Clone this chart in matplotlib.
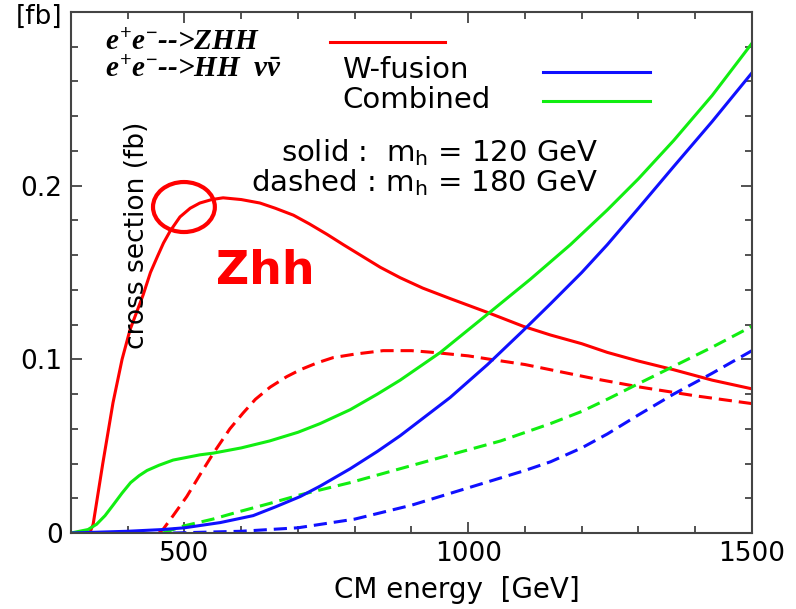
import matplotlib
matplotlib.use('Agg')
import matplotlib.pyplot as plt
from matplotlib.patches import Ellipse
from matplotlib.ticker import MultipleLocator

# values (x: CM energy in GeV, y: cross section in fb)
zhh_120_e = [333, 339, 356, 374, 390, 404, 427, 440, 452, 463, 475, 492, 510, 527, 548,
             568, 600, 633, 660, 692, 720, 751, 780, 810, 845, 880, 920, 968, 1034, 1097,
             1145, 1200, 1245, 1300, 1362, 1430, 1500]
zhh_120_v = [0.0, 0.005, 0.040, 0.075, 0.100, 0.117, 0.137, 0.150, 0.159, 0.167, 0.174,
             0.182, 0.187, 0.190, 0.192, 0.193, 0.192, 0.190, 0.187, 0.183, 0.178, 0.172,
             0.166, 0.160, 0.153, 0.147, 0.141, 0.135, 0.127, 0.119, 0.114, 0.109, 0.104,
             0.099, 0.094, 0.088, 0.083]

zhh_180_e = [455, 462, 480, 504, 530, 551, 580, 603, 625, 651, 680, 704, 734, 762, 800,
             850, 900, 938, 1000, 1039, 1100, 1145, 1220, 1303, 1400, 1500]
zhh_180_v = [0.0, 0.002, 0.010, 0.021, 0.035, 0.046, 0.060, 0.069, 0.077, 0.084, 0.090,
             0.094, 0.098, 0.101, 0.103, 0.105, 0.105, 0.104, 0.102, 0.100, 0.097, 0.094,
             0.089, 0.084, 0.079, 0.0745]

comb_120_e = [300, 330, 345, 360, 374, 390, 405, 420, 434, 455, 480, 527, 551, 600, 650,
              700, 739, 792, 840, 880, 951, 1034, 1109, 1180, 1245, 1300, 1362, 1430, 1500]
comb_120_v = [0.0, 0.002, 0.005, 0.010, 0.016, 0.023, 0.029, 0.033, 0.036, 0.039, 0.042,
              0.045, 0.046, 0.049, 0.053, 0.058, 0.063, 0.071, 0.080, 0.088, 0.104, 0.126,
              0.146, 0.166, 0.186, 0.204, 0.226, 0.252, 0.282]

wfus_120_e = [300, 400, 462, 500, 563, 621, 660, 704, 739, 792, 840, 880, 920, 968, 1034,
              1095, 1145, 1200, 1245, 1300, 1362, 1430, 1500]
wfus_120_v = [0.0, 0.001, 0.002, 0.003, 0.006, 0.010, 0.015, 0.021, 0.027, 0.037, 0.047,
              0.056, 0.066, 0.078, 0.097, 0.116, 0.132, 0.150, 0.166, 0.187, 0.211, 0.237,
              0.265]

comb_180_e = [462, 498, 550, 593, 650, 704, 792, 880, 968, 1057, 1145, 1200, 1245, 1300,
              1362, 1430, 1500]
comb_180_v = [0.0, 0.004, 0.008, 0.012, 0.017, 0.022, 0.029, 0.037, 0.045, 0.053, 0.063,
              0.070, 0.077, 0.086, 0.096, 0.107, 0.119]

wfus_180_e = [480, 600, 700, 800, 900, 1000, 1100, 1145, 1200, 1245, 1300, 1362, 1430, 1500]
wfus_180_v = [0.0, 0.001, 0.003, 0.008, 0.016, 0.026, 0.036, 0.041, 0.049, 0.057, 0.068,
              0.080, 0.092, 0.105]

RED = '#ff0000'
BLUE = '#1010ff'
GREEN = '#11ee11'

plt.rcParams['font.family'] = ['DejaVu Sans']
plt.rcParams['mathtext.fontset'] = 'custom'
plt.rcParams['mathtext.it'] = 'Liberation Serif:italic:bold'
plt.rcParams['mathtext.rm'] = 'Liberation Serif:bold'
plt.rcParams['mathtext.bf'] = 'Liberation Serif:bold'
plt.rcParams['lines.scale_dashes'] = False

fig = plt.figure(figsize=(7.96, 6.09), dpi=100)
ax = fig.add_axes([0.0892, 0.1248, 0.8555, 0.8555])

lw = 2.2
dash = (9.5, 5)
ax.plot(zhh_120_e, zhh_120_v, color=RED, lw=lw)
ax.plot(zhh_180_e, zhh_180_v, color=RED, lw=lw, dashes=dash)
ax.plot(comb_120_e, comb_120_v, color=GREEN, lw=lw)
ax.plot(comb_180_e, comb_180_v, color=GREEN, lw=lw, dashes=dash)
ax.plot(wfus_120_e, wfus_120_v, color=BLUE, lw=lw)
ax.plot(wfus_180_e, wfus_180_v, color=BLUE, lw=lw, dashes=dash)

ax.set_xlim(300, 1500)
ax.set_ylim(0, 0.3)
ax.set_xticks([500, 1000, 1500])
ax.set_xticklabels(['500', '1000', '1500'])
ax.xaxis.set_minor_locator(MultipleLocator(100))
ax.set_yticks([0, 0.1, 0.2])
ax.set_yticklabels(['0', '0.1', '0.2'])
ax.yaxis.set_minor_locator(MultipleLocator(0.02))

for s in ax.spines.values():
    s.set_color('#444444')
    s.set_linewidth(1.5)
ax.tick_params(which='both', direction='in', top=True, right=True, color='#444444',
               labelsize=19, width=1.3)
ax.tick_params(which='major', length=8)
ax.tick_params(which='minor', length=5)
ax.tick_params(axis='x', which='major', pad=6)
ax.tick_params(axis='y', which='major', pad=6)

# axis texts
ax.text(-0.012, 0.990, '[fb]', transform=ax.transAxes, ha='right', va='center',
        fontsize=19, clip_on=False)
ax.text(0.567, -0.109, 'CM energy  [GeV]', transform=ax.transAxes, ha='center',
        va='center', fontsize=20)
ax.text(0.097, 0.572, 'cross section (fb)', transform=ax.transAxes, rotation=90,
        ha='center', va='center', fontsize=19)

# legend block
serif = dict(family='Liberation Serif', style='italic', weight='bold', fontsize=21)
ax.text(0.050, 0.942, r'$e^{+}e^{-}$-->ZHH', transform=ax.transAxes, ha='left',
        va='center', **serif)
ax.text(0.050, 0.889, r'$e^{+}e^{-}$-->HH  $\nu\bar{\nu}$', transform=ax.transAxes,
        ha='left', va='center', **serif)
ax.text(0.398, 0.889, 'W-fusion', transform=ax.transAxes, ha='left', va='center',
        fontsize=21)
ax.text(0.398, 0.831, 'Combined', transform=ax.transAxes, ha='left', va='center',
        fontsize=21)
ax.plot([0.380, 0.549], [0.942, 0.942], color=RED, lw=lw, transform=ax.transAxes)
ax.plot([0.693, 0.850], [0.885, 0.885], color=BLUE, lw=lw, transform=ax.transAxes)
ax.plot([0.693, 0.850], [0.829, 0.829], color=GREEN, lw=lw, transform=ax.transAxes)

ax.text(0.774, 0.712, r'solid :  m$_\mathregular{h}$ = 120 GeV', transform=ax.transAxes,
        ha='right', va='baseline', fontsize=21)
ax.text(0.774, 0.6545, r'dashed : m$_\mathregular{h}$ = 180 GeV', transform=ax.transAxes,
        ha='right', va='baseline', fontsize=21)

# highlighted annotation
ax.text(0.285, 0.501, 'Zhh', transform=ax.transAxes, ha='center', va='center',
        fontsize=33, fontweight='bold', color=RED)
ax.add_patch(Ellipse((499, 0.1877), 109, 0.0288, fill=False, edgecolor=RED, lw=3))

fig.savefig('out.png', dpi=100)
